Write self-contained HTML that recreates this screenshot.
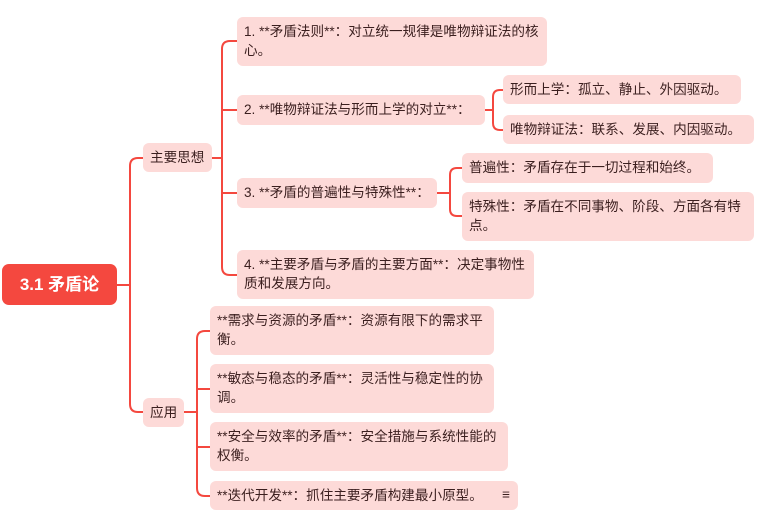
<!DOCTYPE html>
<html><head><meta charset="utf-8"><style>
body{margin:0;width:765px;height:531px;background:#fff;position:relative;overflow:hidden;font-family:"Liberation Sans","Noto Sans CJK SC",sans-serif;}
.b{position:absolute;background:#fddad8;border-radius:6px;color:#3b1f1f;font-size:13.6px;line-height:19px;padding:5px 3px 5px 7px;box-sizing:border-box;}
.r{position:absolute;left:2px;top:264px;width:115px;height:41px;background:#f4483f;border-radius:7px;color:#fff;font-size:17px;font-weight:bold;line-height:41px;text-align:center;}
svg{position:absolute;left:0;top:0}
</style></head><body>
<svg width="765" height="531" fill="none" stroke="#f4483f" stroke-width="2">
<path d="M117 285 H130"/>
<path d="M143 158 H138 Q130 158 130 166 V404 Q130 412 138 412 H143"/>
<path d="M212 158 H222"/>
<path d="M237 41 H230 Q222 41 222 49 V267 Q222 275 230 275 H237"/>
<path d="M222 110 H237 M222 193 H237"/>
<path d="M485 110 H493"/>
<path d="M503 90 H500 Q493 90 493 97 V123 Q493 130 500 130 H503"/>
<path d="M437 193 H450"/>
<path d="M462 168 H457 Q450 168 450 175 V209 Q450 216 457 216 H462"/>
<path d="M184 412 H197"/>
<path d="M210 331 H205 Q197 331 197 339 V488 Q197 496 205 496 H210"/>
<path d="M197 389 H210 M197 447 H210"/>
</svg>
<div class="r">3.1 矛盾论</div>
<div class="b" style="left:143px;top:143px;width:69px;height:29px;">主要思想</div>
<div class="b" style="left:143px;top:398px;width:41px;height:29px;">应用</div>
<div class="b" style="left:237px;top:17px;width:310px;height:49px;">1. **矛盾法则**：对立统一规律是唯物辩证法的核心。</div>
<div class="b" style="left:237px;top:95px;width:248px;height:30px;">2. **唯物辩证法与形而上学的对立**：</div>
<div class="b" style="left:237px;top:178px;width:200px;height:30px;">3. **矛盾的普遍性与特殊性**：</div>
<div class="b" style="left:237px;top:250px;width:297px;height:49px;">4. **主要矛盾与矛盾的主要方面**：决定事物性质和发展方向。</div>
<div class="b" style="left:503px;top:75px;width:238px;height:29px;">形而上学：孤立、静止、外因驱动。</div>
<div class="b" style="left:503px;top:115px;width:251px;height:29px;">唯物辩证法：联系、发展、内因驱动。</div>
<div class="b" style="left:462px;top:153px;width:251px;height:30px;">普遍性：矛盾存在于一切过程和始终。</div>
<div class="b" style="left:462px;top:192px;width:292px;height:49px;">特殊性：矛盾在不同事物、阶段、方面各有特点。</div>
<div class="b" style="left:210px;top:306px;width:284px;height:49px;">**需求与资源的矛盾**：资源有限下的需求平衡。</div>
<div class="b" style="left:210px;top:364px;width:284px;height:49px;">**敏态与稳态的矛盾**：灵活性与稳定性的协调。</div>
<div class="b" style="left:210px;top:422px;width:298px;height:49px;">**安全与效率的矛盾**：安全措施与系统性能的权衡。</div>
<div class="b" style="left:210px;top:481px;width:308px;height:29px;">**迭代开发**：抓住主要矛盾构建最小原型。<span style="position:absolute;right:8px;top:4px;">≡</span></div>
</body></html>
